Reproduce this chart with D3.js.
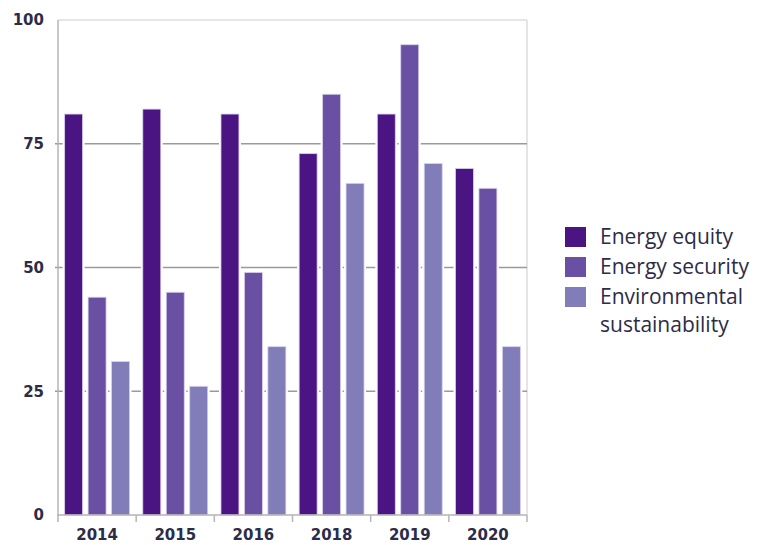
<!DOCTYPE html>
<html>
<head>
<meta charset="utf-8">
<script src="https://cdn.jsdelivr.net/npm/d3@7"></script>
<style>
  html, body { margin: 0; padding: 0; background: #ffffff; }
  svg { display: block; }
</style>
</head>
<body>
<svg id="chart" width="758" height="545"></svg>
<script>
// Years shown on the x axis
const years = ["2014", "2015", "2016", "2018", "2019", "2020"];
// Series names (legend order)
const seriesNames = ["Energy equity", "Energy security", "Environmental sustainability"];
// Scores per year for each series
const equity = [81, 82, 81, 73, 81, 70];
const security = [44, 45, 49, 85, 95, 66];
const environment = [31, 26, 34, 67, 71, 34];
// Y axis ticks
const yTicks = [0, 25, 50, 75, 100];

const colors = ["#4a1483", "#6a50a3", "#807db9"];
const seriesValues = [equity, security, environment];

const svg = d3.select("#chart");
const plotLeft = 58, plotRight = 527, plotTop = 20, plotBottom = 515;

const x0 = d3.scaleBand().domain(years).range([plotLeft, plotRight]).padding(0);
const x1 = d3.scaleBand().domain(d3.range(3)).range([0, x0.bandwidth()])
  .paddingInner(0.234).paddingOuter(0.283);
const y = d3.scaleLinear().domain([0, 100]).range([plotBottom, plotTop]);

const textColor = "#2c2c48";

// Frame: light border top and right
svg.append("line").attr("x1", plotLeft).attr("x2", plotRight).attr("y1", y(100)).attr("y2", y(100))
  .attr("stroke", "#dcdcdc").attr("stroke-width", 1.5);
svg.append("line").attr("x1", plotRight).attr("x2", plotRight).attr("y1", y(100)).attr("y2", plotBottom)
  .attr("stroke", "#dcdcdc").attr("stroke-width", 1.5);

// Gridlines
svg.append("g").selectAll("line").data(yTicks.filter(t => t > 0 && t < 100)).join("line")
  .attr("x1", plotLeft - 3).attr("x2", plotRight)
  .attr("y1", d => y(d)).attr("y2", d => y(d))
  .attr("stroke", "#9a9a9a").attr("stroke-width", 1.5);

// Bars, each with a thin white halo that breaks the gridlines
const groups = svg.append("g").selectAll("g").data(years).join("g")
  .attr("transform", d => `translate(${x0(d)},0)`);

groups.each(function(year, i) {
  const g = d3.select(this);
  seriesValues.forEach((vals, s) => {
    const v = vals[i];
    g.append("rect")
      .attr("x", x1(s) - 2).attr("y", y(v) - 2)
      .attr("width", x1.bandwidth() + 4).attr("height", plotBottom - y(v) + 2)
      .attr("fill", "#ffffff");
    g.append("rect")
      .attr("x", x1(s)).attr("y", y(v))
      .attr("width", x1.bandwidth()).attr("height", plotBottom - y(v))
      .attr("fill", colors[s])
      .attr("stroke", "#d8d0ec").attr("stroke-width", 0.8);
  });
});

// Left axis line
svg.append("line").attr("x1", plotLeft).attr("x2", plotLeft).attr("y1", y(100)).attr("y2", plotBottom + 1)
  .attr("stroke", "#b5b5b5").attr("stroke-width", 1.5);
// Bottom axis line
svg.append("line").attr("x1", plotLeft).attr("x2", plotRight).attr("y1", plotBottom).attr("y2", plotBottom)
  .attr("stroke", "#b5b5b5").attr("stroke-width", 1.5);
// Category boundary ticks
const boundaries = years.map(d => x0(d)).concat([plotRight]);
svg.append("g").selectAll("line").data(boundaries).join("line")
  .attr("x1", d => d).attr("x2", d => d).attr("y1", plotBottom).attr("y2", plotBottom + 7)
  .attr("stroke", "#b5b5b5").attr("stroke-width", 1.5);

// Y tick labels
svg.append("g").selectAll("text").data(yTicks).join("text")
  .attr("x", 44).attr("y", d => y(d)).attr("dy", "0.35em")
  .attr("text-anchor", "end")
  .attr("font-family", "DejaVu Sans, sans-serif").attr("font-weight", "bold")
  .attr("font-size", 15).attr("fill", textColor)
  .text(d => d);

// X tick labels
svg.append("g").selectAll("text").data(years).join("text")
  .attr("x", d => x0(d) + x0.bandwidth() / 2).attr("y", 540)
  .attr("text-anchor", "middle")
  .attr("font-family", "DejaVu Sans, sans-serif").attr("font-weight", "bold")
  .attr("font-size", 15).attr("fill", textColor)
  .text(d => d);

// Legend
const legendLines = [["Energy equity"], ["Energy security"], ["Environmental", "sustainability"]];
const legend = svg.append("g").attr("transform", "translate(565,227)");
let rowY = 0;
legendLines.forEach((lines, i) => {
  legend.append("rect").attr("x", 0).attr("y", rowY).attr("width", 21).attr("height", 20)
    .attr("fill", colors[i]);
  const t = legend.append("text")
    .attr("font-family", "Open Sans, sans-serif").attr("font-size", 21)
    .attr("fill", textColor);
  lines.forEach((ln, j) => {
    t.append("tspan").attr("x", 35).attr("y", rowY + 17 + j * 28).text(ln);
  });
  rowY += 30;
});
</script>
</body>
</html>
